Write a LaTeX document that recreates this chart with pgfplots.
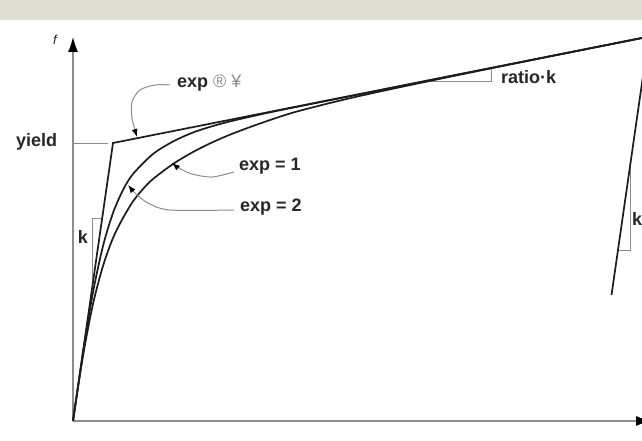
\documentclass[border=0pt]{standalone}
\usepackage{fontspec}
\setmainfont{Liberation Sans}
\usepackage{pgfplots}
\pgfplotsset{compat=1.18}
\usetikzlibrary{arrows.meta}
\definecolor{curve}{RGB}{28,28,28}
\definecolor{guide}{RGB}{140,140,140}
\definecolor{txt}{RGB}{38,38,38}
\definecolor{band}{RGB}{222,222,212}
\tikzset{lab/.style={font=\fontsize{18}{21}\selectfont\bfseries, text=txt, inner sep=0pt}}
\begin{document}
\begin{tikzpicture}
\begin{axis}[x=1pt,y=1pt,xmin=0,xmax=642,ymin=0,ymax=440,hide axis,clip=true]
\coordinate (SW) at (axis cs:0,0);
\coordinate (NE) at (axis cs:642,440);
% background
\addplot[fill=white,draw=none] coordinates {(0,0)(642,0)(642,440)(0,440)(0,0)};
\addplot[fill=band,draw=none] coordinates {(0,420)(642,420)(642,440)(0,440)(0,420)};
% axes
\addplot[guide,line width=1.2pt,-{Latex[black,length=15pt,width=10pt]}] coordinates {(73,19)(73,403)};
\addplot[guide,line width=1.2pt,-{Latex[black,length=15pt,width=10pt]}] coordinates {(73,19)(651,19)};
% guides
\addplot[guide,line width=1pt] coordinates {(73,297)(108,297)};
\addplot[guide,line width=1pt] coordinates {(102,222)(92,222)(92,151)};
\addplot[guide,line width=1pt] coordinates {(420,358.5)(491,358.5)(491,372)};
\addplot[guide,line width=1pt] coordinates {(630,274)(630,190)(618,190)};
% bilinear (exp -> inf)
\addplot[curve,line width=1.7pt] coordinates {(73,19)(113,297)(660,405.6)};
% exp = 2
\addplot[curve,line width=1.7pt,smooth] coordinates {(73,19)(83,87.3)(93,147.6)(103,194)(113,227)(123,250)(133,266)(153,286)(173,298.5)(193,307.5)(213,314)(233,319.3)(273,328.3)(353,344.4)(473,368.4)(660,405.6)};
% exp = 1
\addplot[curve,line width=1.7pt,smooth] coordinates {(73,19)(83,84)(93,136)(103,174)(113,202)(123,222)(133,238.6)(143,251)(153,261)(173,276)(193,288)(213,298)(233,306.5)(260,316.5)(290,326.5)(320,334.5)(353,342.5)(400,352.8)(473,368)(560,385.6)(660,405.6)};
% unloading
\addplot[curve,line width=1.7pt] coordinates {(611.5,145)(650,412.6)};
% leaders
\addplot[guide,line width=1pt,smooth,-{Latex[black,length=8pt,width=6pt]}] coordinates {(170,355)(155,355)(140,350)(132,338)(132,322)(137,303)};
\addplot[guide,line width=1pt,smooth,-{Latex[black,length=8pt,width=6pt]}] coordinates {(234,268)(212,263)(192,266)(179,272)(172,277)};
\addplot[guide,line width=1pt,smooth,-{Latex[black,length=8pt,width=6pt]}] coordinates {(234,230)(170,230)(148,237)(136,246)(128,255)};
% labels
\node[lab,anchor=west] at (axis cs:177,357) {exp {\mdseries\color{guide}\textregistered\ ¥}};
\node[lab,anchor=west] at (axis cs:239,274) {exp = 1};
\node[lab,anchor=west] at (axis cs:240,233) {exp = 2};
\node[lab,anchor=west] at (axis cs:501,363) {ratio·k};
\node[lab,anchor=west] at (axis cs:16,298) {yield};
\node[lab] at (axis cs:83,203) {k};
\node[lab,anchor=west] at (axis cs:632,221) {k};
\node[inner sep=0pt,font=\fontsize{13}{15}\selectfont\itshape, text=txt] at (axis cs:55,400) {f};
\end{axis}
\pgfresetboundingbox
\useasboundingbox (SW) rectangle (NE);
\end{tikzpicture}
\end{document}
